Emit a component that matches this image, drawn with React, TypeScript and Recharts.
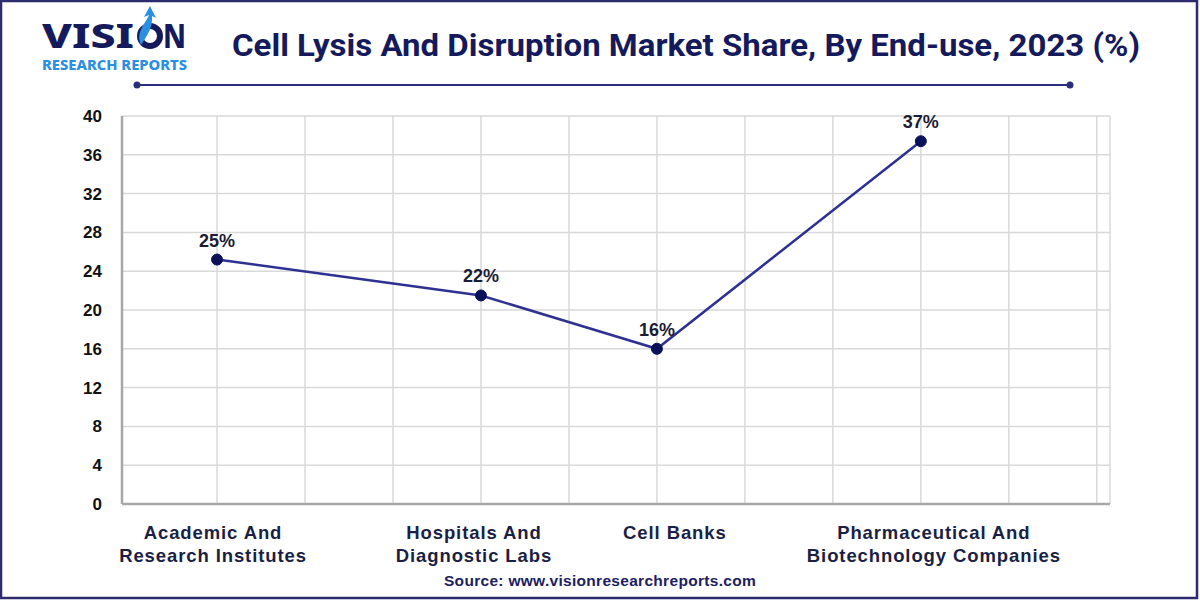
import React from 'react'
import { LineChart, Line, XAxis, YAxis, CartesianGrid, LabelList } from 'recharts'

// categories along the x axis, and where each sits on the 0..10 grid
const categories = [
  'Academic And\nResearch Institutes',
  'Hospitals And\nDiagnostic Labs',
  'Cell Banks',
  'Pharmaceutical And\nBiotechnology Companies',
]
const positions = [0, 3, 5, 8]
const shares = [25.2, 21.5, 16, 37.4]
const shareLabels = ['25%', '22%', '16%', '37%']
const yTicks = [0, 4, 8, 12, 16, 20, 24, 28, 32, 36, 40]
const gridTicks = [0, 1, 2, 3, 4, 5, 6, 7, 8, 9, 10]

const data = categories.map((name, i) => ({
  name,
  pos: positions[i],
  share: shares[i],
  label: shareLabels[i],
}))

const NAVY = '#141a5c'
const AXIS_FONT = '"Liberation Sans", Arial, sans-serif'
// the source chart sets its category labels a little off the points
const LABEL_NUDGE = [-4, -7, 18, 13]

const CategoryTick = (props: any) => {
  const { x, y, payload } = props
  const i = positions.indexOf(payload.value)
  if (i < 0) return <g />
  const lines = categories[i].split('\n')
  const cx = x + LABEL_NUDGE[i]
  return (
    <text
      x={cx}
      y={y}
      textAnchor="middle"
      fill="#1b1f45"
      fontFamily={AXIS_FONT}
      fontWeight={700}
      fontSize={18.5}
      letterSpacing={0.9}
    >
      {lines.map((line, k) => (
        <tspan key={k} x={cx} dy={k === 0 ? 27 : 23}>
          {line}
        </tspan>
      ))}
    </text>
  )
}

export default function App() {
  return (
    <div style={{ position: 'absolute', left: 0, top: 0, width: 1200, height: 600, background: '#fff' }}>
      <LineChart
        width={1200}
        height={600}
        data={data}
        margin={{ top: 116, right: 90, left: 62, bottom: 0 }}
      >
        <CartesianGrid stroke="#d9d9d9" strokeWidth={1.5} />
        <XAxis
          dataKey="pos"
          type="number"
          domain={[-1.08, 10.15]}
          ticks={gridTicks}
          interval={0}
          tick={<CategoryTick />}
          tickLine={false}
          axisLine={{ stroke: '#a8a8a8', strokeWidth: 2.5 }}
          height={96}
        />
        <YAxis
          domain={[0, 40]}
          ticks={yTicks}
          interval={0}
          width={60}
          tickLine={false}
          tickMargin={14}
          axisLine={{ stroke: '#a8a8a8', strokeWidth: 2.5 }}
          tick={{ fill: '#111', fontSize: 17, fontWeight: 700, fontFamily: AXIS_FONT }}
        />
        <Line
          type="linear"
          dataKey="share"
          stroke="#2e3192"
          strokeWidth={2.5}
          dot={{ r: 5.5, fill: '#0b105a', stroke: '#0b105a', strokeWidth: 1 }}
          isAnimationActive={false}
        >
          <LabelList
            dataKey="label"
            position="top"
            offset={13}
            fill="#1c1c34"
            fontSize={18}
            fontWeight={700}
            fontFamily={AXIS_FONT}
          />
        </Line>
      </LineChart>

      <svg
        width={1200}
        height={600}
        style={{ position: 'absolute', left: 0, top: 0, pointerEvents: 'none' }}
      >
        {/* logo */}
        <text x={42} y={48} fontFamily="'Noto Sans', sans-serif" fontWeight={800} fontSize={34} fill={NAVY} textLength={92} lengthAdjust="spacingAndGlyphs">
          VISI
        </text>
        <circle cx={150} cy={36} r={10} fill="none" stroke={NAVY} strokeWidth={6} />
        <path d="M141 45 C135 32 146 23 149 15 L144 17 L150 6 L156 18 L152 16 C153 27 147 36 141 45 Z" fill="#2a8fe0" />
        <text x={163} y={48} fontFamily="'Noto Sans', sans-serif" fontWeight={800} fontSize={34} fill={NAVY} textLength={23} lengthAdjust="spacingAndGlyphs">
          N
        </text>
        <text x={42} y={69.5} fontFamily="'Noto Sans', sans-serif" fontWeight={800} fontSize={14} fill="#2a8fe0" textLength={145} lengthAdjust="spacingAndGlyphs">
          RESEARCH REPORTS
        </text>

        {/* title and rule */}
        <text x={232} y={56} fontFamily="Roboto, sans-serif" fontWeight={700} fontSize={31} fill={NAVY} textLength={908} lengthAdjust="spacingAndGlyphs">
          Cell Lysis And Disruption Market Share, By End-use, 2023 (%)
        </text>
        <line x1={137} y1={85} x2={1070} y2={85} stroke="#2b2f7a" strokeWidth={2} />
        <circle cx={137} cy={85} r={3.5} fill="#2b2f7a" />
        <circle cx={1070} cy={85} r={3.5} fill="#2b2f7a" />

        {/* source */}
        <text x={600} y={586} textAnchor="middle" fontFamily={AXIS_FONT} fontWeight={700} fontSize={15.5} fill="#1c2060" letterSpacing={0.3}>
          Source: www.visionresearchreports.com
        </text>

        {/* frame */}
        <rect x={1} y={1} width={1196} height={597} fill="none" stroke="#2d2a6e" strokeWidth={2.5} />
      </svg>
    </div>
  )
}
